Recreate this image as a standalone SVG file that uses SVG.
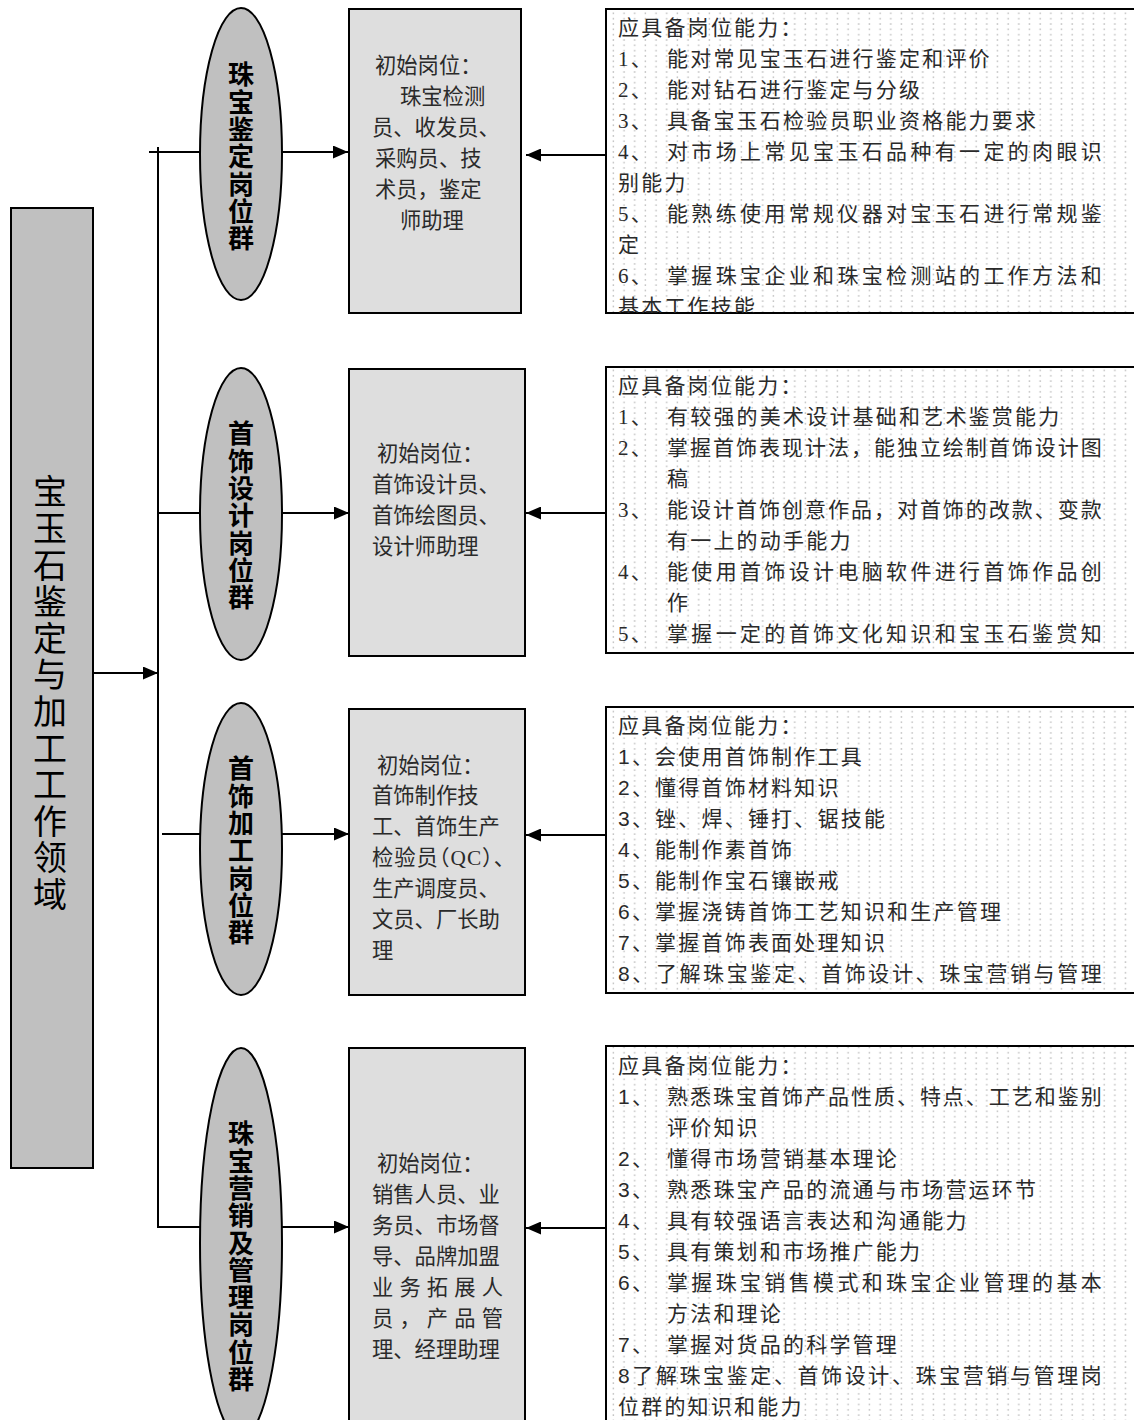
<svg xmlns="http://www.w3.org/2000/svg" width="1134" height="1420" viewBox="0 0 1134 1420">
<style>
.main{fill:#c0c0c0;stroke:#000;stroke-width:2}
.oval{fill:#c0c0c0;stroke:#000;stroke-width:2}
.post{fill:#dedede;stroke:#000;stroke-width:2}
.ability{fill:url(#dots);stroke:#000;stroke-width:2}
.conn{stroke:#000;stroke-width:2;fill:none}
.arr{marker-end:url(#ah)}
.big{font-family:"Noto Sans CJK SC",sans-serif;font-size:34px;fill:#000;text-anchor:middle;writing-mode:vertical-rl;letter-spacing:2.6px}
.ov{font-family:"Noto Sans CJK SC",sans-serif;font-size:26px;font-weight:bold;fill:#000;text-anchor:middle;writing-mode:vertical-rl;letter-spacing:1.3px}
.pt{font-family:"Liberation Serif","Noto Sans CJK SC",serif;font-size:21.3px;fill:#2a2a2a}
.halt{font-feature-settings:"halt" 1;letter-spacing:1px}
.ts{font-family:"Liberation Serif","Noto Sans CJK SC",serif;font-size:21px;fill:#2a2a2a;letter-spacing:2.2px}
.tn{font-family:"Liberation Sans","Noto Sans CJK SC",sans-serif;font-size:21px;fill:#2a2a2a;letter-spacing:2.2px}
</style>
<defs>
<pattern id="dots" patternUnits="userSpaceOnUse" width="10.67" height="5.33">
<rect width="10.67" height="5.33" fill="#fff"/>
<rect x="4.5" y="2" width="1.4" height="1.4" fill="#b8b8b8"/>
</pattern>
<marker id="ah" viewBox="0 0 15 13" refX="15" refY="6.5" markerWidth="15" markerHeight="13" markerUnits="userSpaceOnUse" orient="auto">
<path d="M0,0 L15,6.5 L0,13 z" fill="#000"/>
</marker>
<clipPath id="c1"><rect x="606" y="9" width="540" height="304"/></clipPath>
</defs>
<rect width="1134" height="1420" fill="#fff"/>

<g id="domain">
<rect class="main" x="11" y="208" width="82" height="960"/>
<text class="big" x="50" y="694">宝玉石鉴定与加工工作领域</text>
</g>

<g id="group-1">
<ellipse class="oval" cx="241" cy="154" rx="41" ry="146"/>
<text class="ov" x="241" y="157">珠宝鉴定岗位群</text>
</g>
<g id="group-2">
<ellipse class="oval" cx="241" cy="514" rx="41" ry="146"/>
<text class="ov" x="241" y="516">首饰设计岗位群</text>
</g>
<g id="group-3">
<ellipse class="oval" cx="241" cy="849" rx="41" ry="146"/>
<text class="ov" x="241" y="851">首饰加工岗位群</text>
</g>
<g id="group-4">
<ellipse class="oval" cx="241" cy="1243" rx="41" ry="195"/>
<text class="ov" x="241" y="1257">珠宝营销及管理岗位群</text>
</g>

<g id="post-1">
<rect class="post" x="349" y="9" width="172" height="304"/>
<text class="pt" x="375" y="73">初始岗位：</text>
<text class="pt" x="400" y="104">珠宝检测</text>
<text class="pt" x="372" y="135">员、收发员、</text>
<text class="pt" x="375" y="166">采购员、技</text>
<text class="pt" x="375" y="197">术员，鉴定</text>
<text class="pt" x="400" y="228">师助理</text>
</g>
<g id="post-2">
<rect class="post" x="349" y="369" width="176" height="287"/>
<text class="pt" x="377" y="461">初始岗位：</text>
<text class="pt" x="372" y="492">首饰设计员、</text>
<text class="pt" x="372" y="523">首饰绘图员、</text>
<text class="pt" x="372" y="554">设计师助理</text>
</g>
<g id="post-3">
<rect class="post" x="349" y="709" width="176" height="286"/>
<text class="pt" x="377" y="773">初始岗位：</text>
<text class="pt" x="372" y="803">首饰制作技</text>
<text class="pt" x="372" y="834">工、首饰生产</text>
<text class="pt halt" x="372" y="865">检验员（QC）、</text>
<text class="pt" x="372" y="896">生产调度员、</text>
<text class="pt" x="372" y="927">文员、厂长助</text>
<text class="pt" x="372" y="958">理</text>
</g>
<g id="post-4">
<rect class="post" x="349" y="1048" width="176" height="390"/>
<text class="pt" x="377" y="1171">初始岗位：</text>
<text class="pt" x="372" y="1202">销售人员、业</text>
<text class="pt" x="372" y="1233">务员、市场督</text>
<text class="pt" x="372" y="1264">导、品牌加盟</text>
<text class="pt" x="372" y="1295" textLength="131" lengthAdjust="spacing">业务拓展人</text>
<text class="pt" x="372" y="1326" textLength="131" lengthAdjust="spacing">员，产品管</text>
<text class="pt" x="372" y="1357">理、经理助理</text>
</g>

<g id="ability-1">
<rect class="ability" x="606" y="9" width="540" height="304"/>
<g clip-path="url(#c1)">
<text class="ts" x="618" y="35" letter-spacing="0.5">应具备岗位能力：</text>
<text class="ts" x="618" y="66">1、</text><text class="ts" x="667" y="66">能对常见宝玉石进行鉴定和评价</text>
<text class="ts" x="618" y="97">2、</text><text class="ts" x="667" y="97">能对钻石进行鉴定与分级</text>
<text class="ts" x="618" y="128">3、</text><text class="ts" x="667" y="128">具备宝玉石检验员职业资格能力要求</text>
<text class="ts" x="618" y="159">4、</text><text class="ts" x="667" y="159" textLength="437" lengthAdjust="spacing">对市场上常见宝玉石品种有一定的肉眼识</text>
<text class="ts" x="618" y="190">别能力</text>
<text class="ts" x="618" y="221">5、</text><text class="ts" x="667" y="221" textLength="437" lengthAdjust="spacing">能熟练使用常规仪器对宝玉石进行常规鉴</text>
<text class="ts" x="618" y="252">定</text>
<text class="ts" x="618" y="283">6、</text><text class="ts" x="667" y="283" textLength="437" lengthAdjust="spacing">掌握珠宝企业和珠宝检测站的工作方法和</text>
<text class="ts" x="618" y="314">基本工作技能</text>
</g>
</g>
<g id="ability-2">
<rect class="ability" x="606" y="367" width="540" height="286"/>
<text class="ts" x="618" y="393" letter-spacing="0.5">应具备岗位能力：</text>
<text class="ts" x="618" y="424">1、</text><text class="ts" x="667" y="424">有较强的美术设计基础和艺术鉴赏能力</text>
<text class="ts" x="618" y="455">2、</text><text class="ts" x="667" y="455" textLength="437" lengthAdjust="spacing">掌握首饰表现计法，能独立绘制首饰设计图</text>
<text class="ts" x="667" y="486">稿</text>
<text class="ts" x="618" y="517">3、</text><text class="ts" x="667" y="517" textLength="437" lengthAdjust="spacing">能设计首饰创意作品，对首饰的改款、变款</text>
<text class="ts" x="667" y="548">有一上的动手能力</text>
<text class="ts" x="618" y="579">4、</text><text class="ts" x="667" y="579" textLength="437" lengthAdjust="spacing">能使用首饰设计电脑软件进行首饰作品创</text>
<text class="ts" x="667" y="610">作</text>
<text class="ts" x="618" y="641">5、</text><text class="ts" x="667" y="641" textLength="437" lengthAdjust="spacing">掌握一定的首饰文化知识和宝玉石鉴赏知</text>
</g>
<g id="ability-3">
<rect class="ability" x="606" y="707" width="540" height="286"/>
<text class="tn" x="618" y="733" letter-spacing="0.5">应具备岗位能力：</text>
<text class="tn" x="618" y="764">1、会使用首饰制作工具</text>
<text class="tn" x="618" y="795">2、懂得首饰材料知识</text>
<text class="tn" x="618" y="826">3、锉、焊、锤打、锯技能</text>
<text class="tn" x="618" y="857">4、能制作素首饰</text>
<text class="tn" x="618" y="888">5、能制作宝石镶嵌戒</text>
<text class="tn" x="618" y="919">6、掌握浇铸首饰工艺知识和生产管理</text>
<text class="tn" x="618" y="950">7、掌握首饰表面处理知识</text>
<text class="tn" x="618" y="981" textLength="486" lengthAdjust="spacing">8、了解珠宝鉴定、首饰设计、珠宝营销与管理</text>
</g>
<g id="ability-4">
<rect class="ability" x="606" y="1046" width="540" height="400"/>
<text class="tn" x="618" y="1073" letter-spacing="0.5">应具备岗位能力：</text>
<text class="tn" x="618" y="1104">1、</text><text class="tn" x="667" y="1104" textLength="437" lengthAdjust="spacing">熟悉珠宝首饰产品性质、特点、工艺和鉴别</text>
<text class="tn" x="667" y="1135">评价知识</text>
<text class="tn" x="618" y="1166">2、</text><text class="tn" x="667" y="1166">懂得市场营销基本理论</text>
<text class="tn" x="618" y="1197">3、</text><text class="tn" x="667" y="1197">熟悉珠宝产品的流通与市场营运环节</text>
<text class="tn" x="618" y="1228">4、</text><text class="tn" x="667" y="1228">具有较强语言表达和沟通能力</text>
<text class="tn" x="618" y="1259">5、</text><text class="tn" x="667" y="1259">具有策划和市场推广能力</text>
<text class="tn" x="618" y="1290">6、</text><text class="tn" x="667" y="1290" textLength="437" lengthAdjust="spacing">掌握珠宝销售模式和珠宝企业管理的基本</text>
<text class="tn" x="667" y="1321">方法和理论</text>
<text class="tn" x="618" y="1352">7、</text><text class="tn" x="667" y="1352">掌握对货品的科学管理</text>
<text class="tn" x="618" y="1383" textLength="486" lengthAdjust="spacing">8了解珠宝鉴定、首饰设计、珠宝营销与管理岗</text>
<text class="tn" x="618" y="1414">位群的知识和能力</text>
</g>

<g id="connectors">
<line class="conn" x1="158" y1="147" x2="158" y2="1228"/>
<line class="conn arr" x1="93" y1="673" x2="158" y2="673"/>
<line class="conn" x1="149" y1="152" x2="200" y2="152"/>
<line class="conn arr" x1="282" y1="152" x2="348" y2="152"/>
<line class="conn arr" x1="606" y1="155" x2="526" y2="155"/>
<line class="conn" x1="158" y1="513" x2="200" y2="513"/>
<line class="conn arr" x1="282" y1="513" x2="349" y2="513"/>
<line class="conn arr" x1="606" y1="513" x2="526" y2="513"/>
<line class="conn" x1="162" y1="834" x2="200" y2="834"/>
<line class="conn arr" x1="282" y1="834" x2="349" y2="834"/>
<line class="conn arr" x1="606" y1="835" x2="526" y2="835"/>
<line class="conn" x1="158" y1="1227" x2="200" y2="1227"/>
<line class="conn arr" x1="282" y1="1227" x2="349" y2="1227"/>
<line class="conn arr" x1="606" y1="1228" x2="526" y2="1228"/>
</g>
</svg>
